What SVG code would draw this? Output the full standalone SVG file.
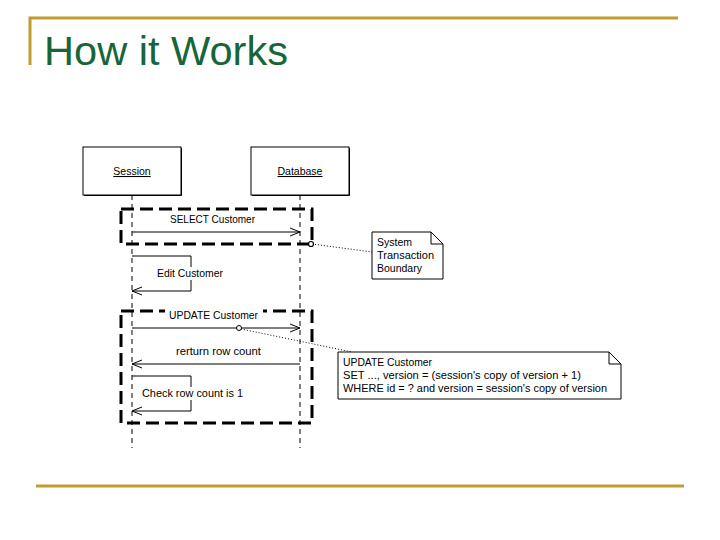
<svg xmlns="http://www.w3.org/2000/svg" width="720" height="540" viewBox="0 0 720 540">
<style>
.frame{stroke:#BF9B30;stroke-width:3;fill:none}
.title{font-family:"Liberation Sans",Arial,sans-serif;font-size:40px;fill:#17653A}
.t{font-family:"Liberation Sans",Arial,sans-serif;font-size:10.5px;fill:#000}
.box{fill:#fff;stroke:#000;stroke-width:1}
.shadow{fill:none;stroke:#000;stroke-width:1}
.life{stroke:#000;stroke-width:1;stroke-dasharray:5,4;fill:none}
.tx{stroke:#000;stroke-width:3;stroke-dasharray:13,6;fill:none}
.msg{stroke:#000;stroke-width:1;fill:none}
.dot{stroke:#000;stroke-width:1;stroke-dasharray:1,2;fill:none}
.note{fill:#fff;stroke:#000;stroke-width:1}
.bg{fill:#fff}
</style>
<defs>
<marker id="open" markerWidth="12" markerHeight="10" refX="11" refY="5" orient="auto" markerUnits="userSpaceOnUse">
<path d="M1,1 L11,5 L1,9" fill="none" stroke="#000" stroke-width="1"/>
</marker>
</defs>

<g id="title-frame">
<path class="frame" d="M30,65 V18 H678"/>
<line class="frame" x1="36" y1="486" x2="684" y2="486"/>
<text class="title" x="44" y="65" textLength="244" lengthAdjust="spacingAndGlyphs">How it Works</text>
</g>

<g id="lifelines">
<line class="life" x1="132" y1="195" x2="132" y2="448"/>
<line class="life" x1="300" y1="195" x2="300" y2="448"/>
</g>

<g id="session">
<path class="shadow" d="M84,195.5 H181.5 V148"/>
<rect class="box" x="83" y="147" width="98" height="48"/>
<text class="t" x="132" y="175" text-anchor="middle" text-decoration="underline">Session</text>
</g>

<g id="database">
<path class="shadow" d="M252,195.5 H349.5 V148"/>
<rect class="box" x="251" y="147" width="98" height="48"/>
<text class="t" x="300" y="175" text-anchor="middle" text-decoration="underline">Database</text>
</g>

<g id="tx1">
<rect class="tx" x="121" y="209" width="191" height="35"/>
</g>

<g id="tx2">
<rect class="tx" x="121" y="311" width="191" height="112"/>
<rect class="bg" x="165" y="305" width="98" height="12"/>
</g>

<g id="connectors">
<line class="msg" x1="132" y1="232" x2="300" y2="232" marker-end="url(#open)"/>
<polyline class="msg" points="132,256 191,256 191,291 132,291" marker-end="url(#open)"/>
<line class="msg" x1="132" y1="328" x2="300" y2="328" marker-end="url(#open)"/>
<line class="msg" x1="300" y1="364" x2="132" y2="364" marker-end="url(#open)"/>
<polyline class="msg" points="132,376 191,376 191,411 132,411" marker-end="url(#open)"/>
<line class="dot" x1="312" y1="244" x2="372" y2="252"/>
<circle cx="311" cy="244" r="2.5" fill="#fff" stroke="#000" stroke-width="1.2"/>
<line class="dot" x1="241" y1="329" x2="352" y2="352"/>
<circle cx="239" cy="328" r="2.5" fill="#fff" stroke="#000" stroke-width="1"/>
</g>

<g id="labels">
<text class="t" x="170" y="223" textLength="85" lengthAdjust="spacingAndGlyphs">SELECT Customer</text>
<rect class="bg" x="155" y="267" width="70" height="13"/>
<text class="t" x="157" y="277" textLength="66" lengthAdjust="spacingAndGlyphs">Edit Customer</text>
<text class="t" x="169" y="319" textLength="89" lengthAdjust="spacingAndGlyphs">UPDATE Customer</text>
<text class="t" x="176" y="355" textLength="85" lengthAdjust="spacingAndGlyphs">rerturn row count</text>
<rect class="bg" x="140" y="387" width="105" height="13"/>
<text class="t" x="142" y="397" textLength="101" lengthAdjust="spacingAndGlyphs">Check row count is 1</text>
</g>

<g id="note1">
<path class="note" d="M372,232 H431 L443,244 V279 H372 Z"/>
<path class="msg" d="M431,232 V244 H443"/>
<text class="t" x="377" y="246">System</text>
<text class="t" x="377" y="259" textLength="57" lengthAdjust="spacingAndGlyphs">Transaction</text>
<text class="t" x="377" y="272">Boundary</text>
</g>

<g id="note2">
<path class="note" d="M338,352 H609 L621,364 V399 H338 Z"/>
<path class="msg" d="M609,352 V364 H621"/>
<text class="t" x="343" y="366" textLength="89" lengthAdjust="spacingAndGlyphs">UPDATE Customer</text>
<text class="t" x="343" y="379" textLength="238" lengthAdjust="spacingAndGlyphs">SET ..., version = (session's copy of version + 1)</text>
<text class="t" x="343" y="392" textLength="264" lengthAdjust="spacingAndGlyphs">WHERE id = ? and version = session's copy of version</text>
</g>
</svg>
